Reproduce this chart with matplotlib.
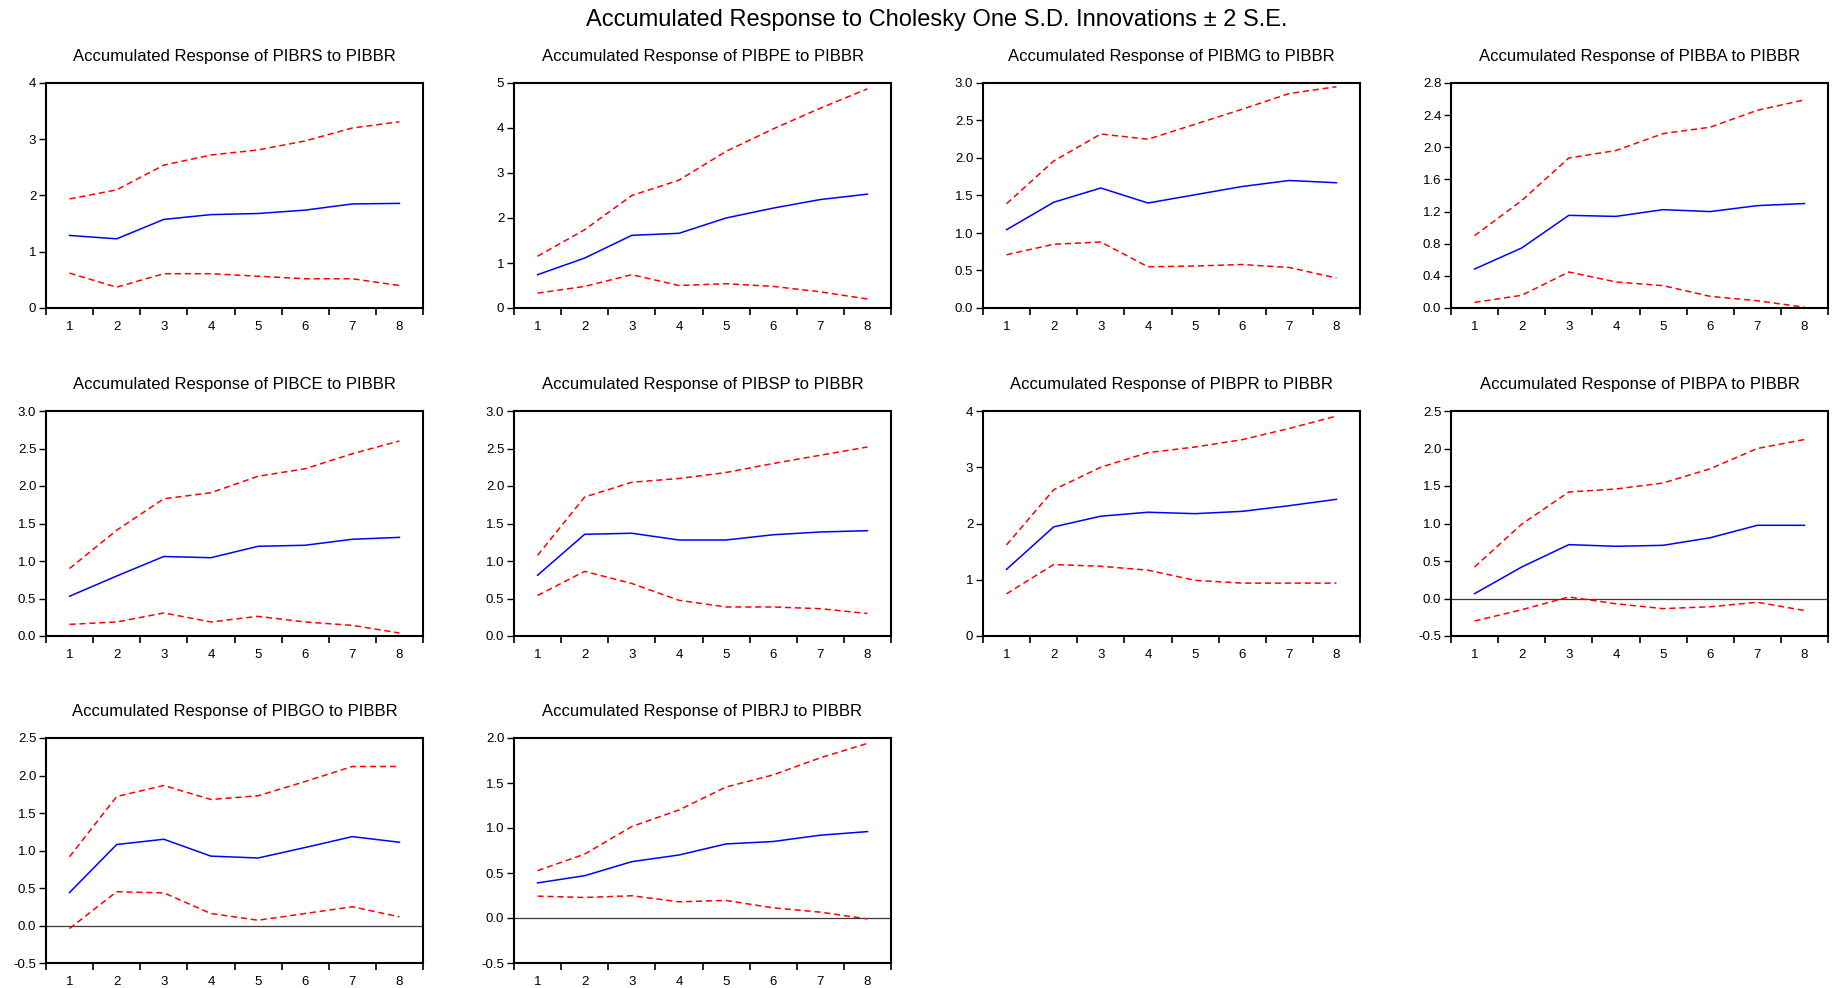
import matplotlib
matplotlib.use("Agg")
import matplotlib.pyplot as plt
import numpy as np
from matplotlib.ticker import FormatStrFormatter

plt.rcParams['font.family'] = ['Liberation Sans', 'DejaVu Sans']

# accumulated impulse responses to a PIBBR shock, with +/- 2 S.E. bands
periods = [1, 2, 3, 4, 5, 6, 7, 8]
variables = ["PIBRS", "PIBPE", "PIBMG", "PIBBA", "PIBCE",
             "PIBSP", "PIBPR", "PIBPA", "PIBGO", "PIBRJ"]

responses = [
    [1.29, 1.23, 1.575, 1.66, 1.68, 1.74, 1.85, 1.86],
    [0.74, 1.11, 1.615, 1.66, 2.00, 2.22, 2.41, 2.53],
    [1.044, 1.41, 1.60, 1.40, 1.51, 1.62, 1.70, 1.67],
    [0.485, 0.747, 1.153, 1.14, 1.224, 1.20, 1.274, 1.30],
    [0.53, 0.80, 1.06, 1.044, 1.196, 1.21, 1.29, 1.315],
    [0.81, 1.356, 1.37, 1.28, 1.28, 1.35, 1.387, 1.404],
    [1.185, 1.94, 2.13, 2.20, 2.175, 2.216, 2.317, 2.43],
    [0.064, 0.42, 0.718, 0.696, 0.709, 0.81, 0.976, 0.976],
    [0.44, 1.08, 1.15, 0.925, 0.90, 1.04, 1.185, 1.11],
    [0.39, 0.47, 0.626, 0.70, 0.823, 0.85, 0.92, 0.96],
]
upper = [
    [1.94, 2.10, 2.54, 2.72, 2.81, 2.97, 3.20, 3.31],
    [1.15, 1.74, 2.50, 2.84, 3.48, 3.98, 4.44, 4.87],
    [1.39, 1.96, 2.32, 2.25, 2.45, 2.65, 2.86, 2.95],
    [0.90, 1.336, 1.867, 1.96, 2.17, 2.25, 2.46, 2.59],
    [0.90, 1.41, 1.83, 1.91, 2.13, 2.23, 2.43, 2.60],
    [1.075, 1.853, 2.05, 2.10, 2.18, 2.30, 2.41, 2.52],
    [1.62, 2.60, 3.00, 3.26, 3.36, 3.49, 3.69, 3.91],
    [0.42, 0.99, 1.42, 1.46, 1.54, 1.73, 2.00, 2.12],
    [0.917, 1.72, 1.867, 1.68, 1.73, 1.92, 2.12, 2.12],
    [0.526, 0.71, 1.016, 1.20, 1.455, 1.59, 1.78, 1.94],
]
lower = [
    [0.62, 0.37, 0.61, 0.61, 0.565, 0.52, 0.52, 0.40],
    [0.33, 0.48, 0.74, 0.50, 0.54, 0.48, 0.36, 0.20],
    [0.71, 0.85, 0.88, 0.55, 0.56, 0.58, 0.54, 0.40],
    [0.07, 0.158, 0.448, 0.324, 0.278, 0.145, 0.09, 0.01],
    [0.155, 0.187, 0.307, 0.187, 0.262, 0.187, 0.142, 0.04],
    [0.54, 0.862, 0.70, 0.476, 0.387, 0.387, 0.364, 0.30],
    [0.75, 1.27, 1.24, 1.17, 0.99, 0.94, 0.94, 0.94],
    [-0.30, -0.15, 0.02, -0.07, -0.135, -0.11, -0.05, -0.16],
    [-0.04, 0.45, 0.435, 0.16, 0.07, 0.16, 0.25, 0.115],
    [0.243, 0.228, 0.247, 0.18, 0.195, 0.113, 0.065, -0.01],
]

# (ymin, ymax, step) for each panel
y_scales = [(0, 4, 1), (0, 5, 1), (0, 3, 0.5), (0, 2.8, 0.4), (0, 3, 0.5),
            (0, 3, 0.5), (0, 4, 1), (-0.5, 2.5, 0.5), (-0.5, 2.5, 0.5),
            (-0.5, 2.0, 0.5)]

W, H = 1832, 988
fig = plt.figure(figsize=(W / 100, H / 100), dpi=100)

col_left = [46, 514, 983, 1451]
row_top = [83, 411, 738]
aw, ah = 377, 225

for i, var in enumerate(variables):
    r, c = divmod(i, 4)
    ax = fig.add_axes([col_left[c] / W, 1 - (row_top[r] + ah) / H, aw / W, ah / H])

    ymin, ymax, step = y_scales[i]
    if ymin < 0:
        ax.axhline(0, color="#3a3a3a", lw=0.9, zorder=1)
    ax.plot(periods, upper[i], color="red", lw=1.1, ls=(0, (4, 2.5)), zorder=2)
    ax.plot(periods, lower[i], color="red", lw=1.1, ls=(0, (4, 2.5)), zorder=2)
    ax.plot(periods, responses[i], color="blue", lw=1.1, zorder=3)

    ax.set_xlim(0.5, 8.5)
    ax.set_ylim(ymin, ymax)
    ax.set_xticks(periods)
    ax.set_xticks(np.arange(0.5, 9.0, 1.0), minor=True)
    ax.set_yticks(np.arange(ymin, ymax + step / 2, step))
    ax.yaxis.set_major_formatter(FormatStrFormatter("%d" if step >= 1 else "%.1f"))

    ax.tick_params(axis="x", which="major", length=0, pad=9, labelsize=9.5)
    ax.tick_params(axis="x", which="minor", length=5, width=1.2, direction="out")
    ax.tick_params(axis="y", which="major", length=5, width=1.0, direction="out",
                   pad=2, labelsize=9.5)
    for sp in ax.spines.values():
        sp.set_linewidth(1.5)
        sp.set_color("black")

    ax.text(0.5, 1 + 26.5 / ah, f"Accumulated Response of {var} to PIBBR",
            transform=ax.transAxes, ha="center", va="center", fontsize=12)

fig.text(937 / W, 1 - 20 / H,
         "Accumulated Response to Cholesky One S.D. Innovations \u00b1 2 S.E.",
         ha="center", va="center", fontsize=17)

fig.savefig("out.png", dpi=100)
